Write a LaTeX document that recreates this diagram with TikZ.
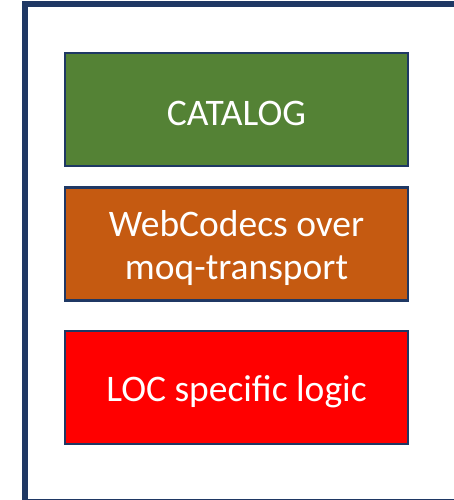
\documentclass[tikz,border=0pt]{standalone}
\usepackage{fontspec}
\setmainfont{Carlito}
\definecolor{frame}{HTML}{1F3864}
\definecolor{gbox}{HTML}{548235}
\definecolor{obox}{HTML}{C55A11}
\definecolor{rbox}{HTML}{FF0000}
\begin{document}
\begin{tikzpicture}[x=1pt,y=-1pt,
  layer/.style={draw=frame,line width=2.2pt,minimum width=343pt,minimum height=113pt,inner sep=0pt},
  layertext/.style={inner sep=0pt,text=white,align=center,font=\fontsize{37.5}{43}\selectfont}]
\useasboundingbox (0,0) rectangle (454,500);
\clip (0,0) rectangle (454,500);
\draw[frame,line width=6pt] (25,4.5) rectangle (458,502);
\node[layer,fill=gbox] (catalog) at (236.5,109.5) {};
\node[layer,fill=obox] (webcodecs) at (236.5,244) {};
\node[layer,fill=rbox] (loc) at (236.5,387.5) {};
\node[layertext] (catalogtext) at ([yshift=-4pt]catalog.center) {CATALOG};
\node[layertext] (webcodecstext) at ([yshift=-4pt]webcodecs.center) {WebCodecs over\\moq-transport};
\node[layertext] (loctext) at ([yshift=-4pt]loc.center) {LOC specific logic};
\end{tikzpicture}
\end{document}
